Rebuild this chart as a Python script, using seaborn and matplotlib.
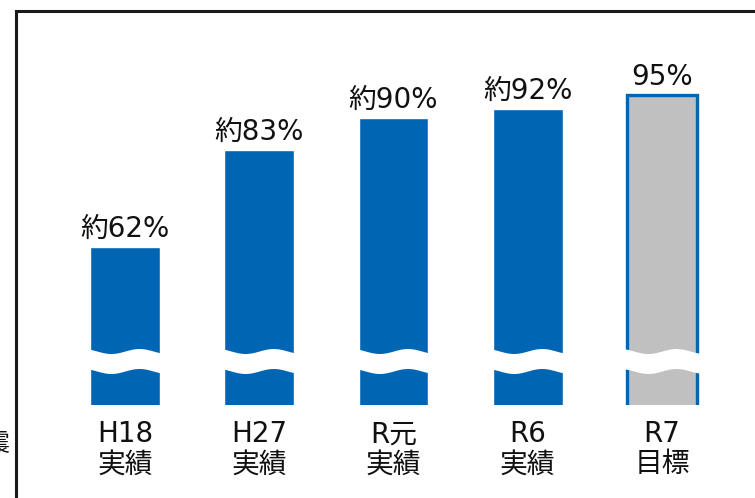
import numpy as np
import pandas as pd
import matplotlib
matplotlib.use("Agg")
import matplotlib.pyplot as plt
import matplotlib.transforms as mtransforms
from matplotlib.patches import Rectangle
import seaborn as sns

# データ
categories = ["H18\n実績", "H27\n実績", "R元\n実績", "R6\n実績", "R7\n目標"]
values = [62, 83, 90, 92, 95]
value_labels = ["約62%", "約83%", "約90%", "約92%", "95%"]

blue = "#0066B3"
gray = "#C0C0C0"
colors = [blue, blue, blue, blue, gray]

sns.set_style("white")
plt.rcParams["font.family"] = ["DejaVu Sans", "Noto Sans CJK JP"]

df = pd.DataFrame({"cat": categories, "val": values})

W, H = 755, 498
fig = plt.figure(figsize=(W / 100, H / 100), dpi=100)
ax = fig.add_axes([16 / W, (H - 405) / H, (W - 16) / W, (405 - 11) / H])

sns.barplot(data=df, x="cat", y="val", hue="cat", palette=colors,
            width=0.52, legend=False, ax=ax, saturation=1)

# 最後のバー（目標）は青枠
last = ax.patches[-1]
last.set_edgecolor(blue)
last.set_linewidth(2.4)

ax.set_ylim(27.6, 113.3)
ax.set_xlim(-0.812, 4.693)
for s in ax.spines.values():
    s.set_visible(False)
ax.set_yticks([])
ax.set_xlabel("")
ax.set_ylabel("")
ax.tick_params(axis="x", length=0, pad=11, labelsize=20, labelcolor="#111111")
for t in ax.get_xticklabels():
    t.set_linespacing(1.1)

# 値ラベル
for i, (v, lab) in enumerate(zip(values, value_labels)):
    ax.annotate(lab, (i, v), xytext=(0, 3), textcoords="offset points",
                ha="center", va="bottom", fontsize=20, color="#111111")

# 省略（波線）マーク
trans = mtransforms.blended_transform_factory(ax.transData, ax.transAxes)
ax_h = 405 - 11
yc = (405 - 361) / ax_h
half = 10 / ax_h
amp = 2.5 / ax_h
for i in range(len(values)):
    xs = np.linspace(i - 0.3, i + 0.3, 100)
    wave = amp * np.sin((xs - i) * 2 * np.pi / 0.42)
    ax.fill_between(xs, yc - half + wave, yc + half + wave, color="white",
                    transform=trans, zorder=5, linewidth=0)

# 外枠
fig.patches.append(Rectangle((16 / W, -0.2), 1.0, 1.2 - 11 / H,
                             transform=fig.transFigure, fill=False,
                             edgecolor="#1a1a1a", linewidth=2.2))

# 左端で切れている文字
fig.text(9 / W, (H - 443) / H, "震", ha="right", va="center",
         fontsize=18, color="#111111")

fig.savefig("out.png", dpi=100)
